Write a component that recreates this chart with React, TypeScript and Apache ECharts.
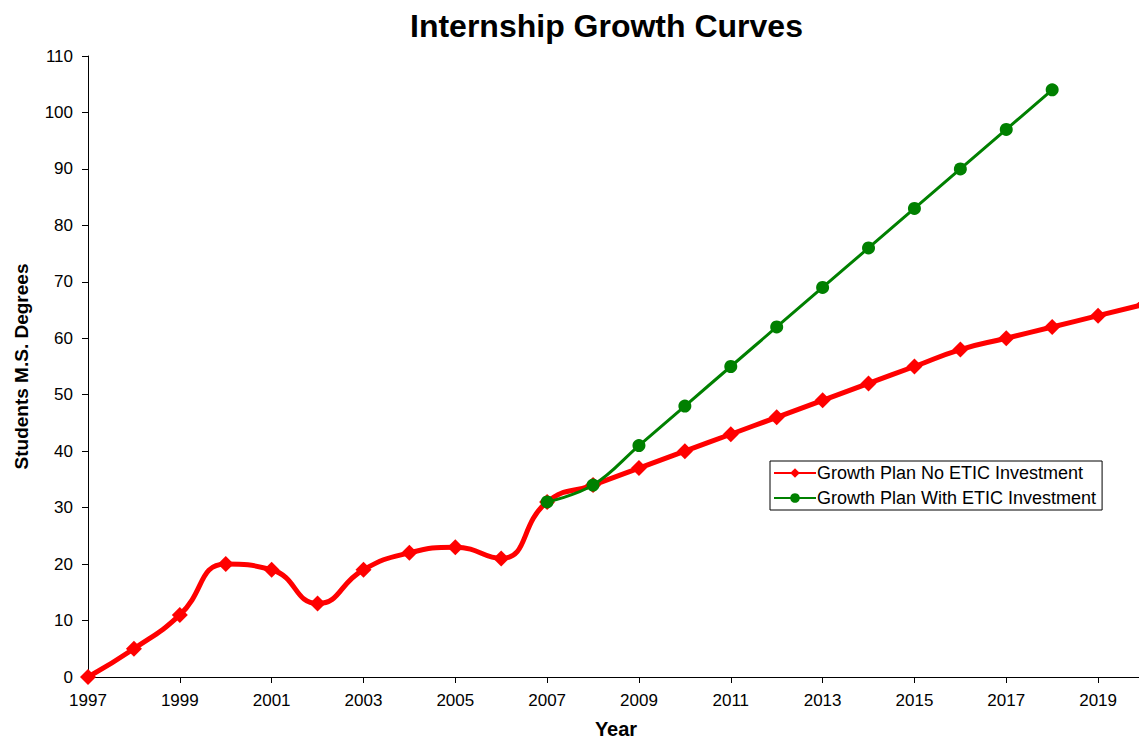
import React, { useEffect, useRef } from "react";
import * as echarts from "echarts";

const years = [1997, 1998, 1999, 2000, 2001, 2002, 2003, 2004, 2005, 2006, 2007, 2008, 2009, 2010, 2011, 2012, 2013, 2014, 2015, 2016, 2017, 2018, 2019, 2020];
const noEtic = [0, 5, 11, 20, 19, 13, 19, 22, 23, 21, 31, 34, 37, 40, 43, 46, 49, 52, 55, 58, 60, 62, 64, 66];
const withEticYears = [2007, 2008, 2009, 2010, 2011, 2012, 2013, 2014, 2015, 2016, 2017, 2018];
const withEtic = [31, 34, 41, 48, 55, 62, 69, 76, 83, 90, 97, 104];

const FONT = "Liberation Sans, Arial, sans-serif";

export default function App() {
  const ref = useRef<HTMLDivElement>(null);
  useEffect(() => {
    if (!ref.current) return;
    const chart = echarts.init(ref.current, null, { renderer: "svg" });
    chart.setOption({
      animation: false,
      backgroundColor: "#fff",
      title: {
        text: "Internship Growth Curves",
        left: 405,
        top: 5,
        textStyle: { fontFamily: FONT, fontSize: 32, fontWeight: "bold", color: "#000" },
      },
      grid: { left: 88, right: -5, top: 56, bottom: 63, containLabel: false, outerBoundsMode: "none" },
      legend: {
        left: 770,
        top: 461,
        orient: "vertical",
        backgroundColor: "#fff",
        borderColor: "#000",
        borderWidth: 1,
        padding: [3, 6, 3, 3],
        itemGap: 7,
        itemWidth: 42,
        itemHeight: 12,
        textStyle: { fontFamily: FONT, fontSize: 18, color: "#000", padding: [0, 0, 0, -4] },
        data: ["Growth Plan No ETIC Investment", "Growth Plan With ETIC Investment"],
      },
      xAxis: {
        type: "value",
        min: 1997,
        max: 2020,
        interval: 2,
        name: "Year",
        nameLocation: "middle",
        nameGap: 42,
        nameTextStyle: { fontFamily: FONT, fontSize: 20, fontWeight: "bold", color: "#000" },
        axisLine: { lineStyle: { color: "#000", width: 1 } },
        axisTick: { show: true, length: 6, lineStyle: { color: "#000" } },
        axisLabel: { fontFamily: FONT, fontSize: 17, color: "#000", margin: 15, showMaxLabel: false, formatter: (v: number) => String(v) },
        splitLine: { show: false },
      },
      yAxis: {
        type: "value",
        min: 0,
        max: 110,
        interval: 10,
        name: "Students M.S. Degrees",
        nameLocation: "middle",
        nameGap: 57,
        nameTextStyle: { fontFamily: FONT, fontSize: 19, fontWeight: "bold", color: "#000" },
        axisLine: { show: true, lineStyle: { color: "#000", width: 1 } },
        axisTick: { show: true, length: 6, lineStyle: { color: "#000" } },
        axisLabel: { fontFamily: FONT, fontSize: 17, color: "#000", margin: 15 },
        splitLine: { show: false },
      },
      series: [
        {
          name: "Growth Plan No ETIC Investment",
          type: "line",
          data: years.map((y, i) => [y, noEtic[i]]),
          smooth: 0.5,
          symbol: "diamond",
          symbolSize: 16,
          color: "#ff0000",
          lineStyle: { width: 5, color: "#ff0000" },
          itemStyle: { color: "#ff0000" },
          z: 2,
        },
        {
          name: "Growth Plan With ETIC Investment",
          type: "line",
          data: withEticYears.map((y, i) => [y, withEtic[i]]),
          smooth: 0.4,
          symbol: "circle",
          symbolSize: 13,
          color: "#008000",
          lineStyle: { width: 3, color: "#008000" },
          itemStyle: { color: "#008000" },
          z: 3,
        },
      ],
    });
    return () => chart.dispose();
  }, []);
  return <div ref={ref} style={{ position: "fixed", left: 0, top: 0, width: 1139, height: 740 }} />;
}
